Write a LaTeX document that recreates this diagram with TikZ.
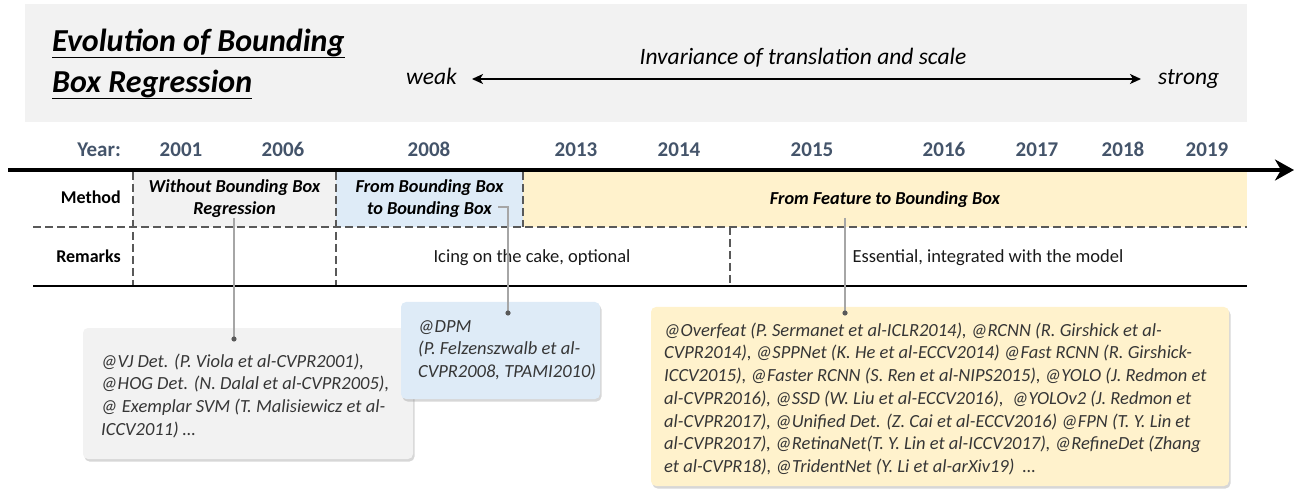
\documentclass[tikz,border=0pt]{standalone}
\usepackage{fontspec}
\setmainfont{Carlito}
\usetikzlibrary{arrows.meta,shadows}
\definecolor{bandgray}{HTML}{F2F2F2}
\definecolor{cellblue}{HTML}{DEEBF7}
\definecolor{cellyellow}{HTML}{FFF2CC}
\definecolor{yearcol}{HTML}{44546A}
\definecolor{boxtext}{HTML}{363636}
\definecolor{dashcol}{HTML}{595959}
\definecolor{linkcol}{HTML}{A6A6A6}
\definecolor{dotcol}{HTML}{595959}
\newcommand\titleul[1]{\setbox0\hbox{#1}\rlap{\rule[-6.5pt]{\wd0}{1.9pt}}\box0}
\newcommand\tlines[2]{\parbox[t]{#1}{\raggedright #2}}
\tikzset{
  yearlbl/.style={anchor=base, inner sep=0pt, text=yearcol, font=\fontsize{21}{25}\selectfont\bfseries},
  rowlbl/.style={anchor=base east, inner sep=0pt, font=\fontsize{18}{22}\selectfont\bfseries},
  methlbl/.style={anchor=base, inner sep=0pt, align=center, font=\fontsize{18.3}{22}\selectfont\bfseries\itshape},
  remlbl/.style={anchor=base, inner sep=0pt, text=black!90, font=\fontsize{18.5}{22}\selectfont},
  dsh/.style={draw=dashcol, line width=1.4pt, dash pattern=on 8pt off 4pt},
  link/.style={draw=linkcol, line width=1.2pt},
  ibox/.style={rectangle, rounded corners=5pt, draw=none, inner sep=0pt,
    drop shadow={shadow xshift=1.5pt, shadow yshift=-2.5pt, opacity=0.35, fill=black!45}},
  boxtxt/.style={anchor=base west, inner sep=0pt, text=boxtext, font=\fontsize{18.5}{22.8}\selectfont\itshape},
  titlefont/.style={anchor=base west, inner sep=0pt, font=\fontsize{32}{38}\selectfont\bfseries\itshape},
  headfont/.style={inner sep=0pt, font=\fontsize{23.5}{28}\selectfont\itshape},
}
\begin{document}
\begin{tikzpicture}[x=1pt,y=-1pt]
\useasboundingbox (0,0) rectangle (1294,489);
% header band
\fill[bandgray] (25,4) rectangle (1247,122);
\node[titlefont] (title1) at (52,52) {\titleul{Evolution of Bounding}};
\node[titlefont] (title2) at (52,93) {\titleul{Box Regression}};
\node[headfont, anchor=base] (inv) at (803,65) {Invariance of translation and scale};
\node[headfont, anchor=base east] (weak) at (457,85) {weak};
\node[headfont, anchor=base west] (strong) at (1158,85) {strong};
\coordinate (invL) at (472,79);
\coordinate (invR) at (1141,79);
\draw[line width=1.6pt, {Stealth[length=11pt,width=10pt,inset=3pt]}-{Stealth[length=11pt,width=10pt,inset=3pt]}] (invL) -- (invR);

% method row cells
\node[rectangle, fill=bandgray, inner sep=0pt, minimum width=203pt, minimum height=55pt] (cellA) at (234.5,199.5) {};
\node[rectangle, fill=cellblue, inner sep=0pt, minimum width=187pt, minimum height=55pt] (cellB) at (429.5,199.5) {};
\node[rectangle, fill=cellyellow, inner sep=0pt, minimum width=724pt, minimum height=55pt] (cellC) at (885,199.5) {};

% year row
\node[yearlbl, anchor=base east] (yr) at (121,157) {Year:};
\node[yearlbl] (y2001) at (181,157) {2001};
\node[yearlbl] (y2006) at (283,157) {2006};
\node[yearlbl] (y2008) at (429,157) {2008};
\node[yearlbl] (y2013) at (576,157) {2013};
\node[yearlbl] (y2014) at (679,157) {2014};
\node[yearlbl] (y2015) at (812,157) {2015};
\node[yearlbl] (y2016) at (944,157) {2016};
\node[yearlbl] (y2017) at (1037,157) {2017};
\node[yearlbl] (y2018) at (1123,157) {2018};
\node[yearlbl] (y2019) at (1207,157) {2019};

% axis
\coordinate (axS) at (8,170);
\coordinate (axE) at (1294,170);
\draw[line width=3.6pt, -{Stealth[length=19pt,width=21pt,inset=6pt]}] (axS) -- (axE);

% table lines
\draw[dsh] (133,172) -- (133,286);
\draw[dsh] (336,172) -- (336,286);
\draw[dsh] (523,172) -- (523,227);
\draw[dsh] (730,227) -- (730,286);
\draw[dsh] (33,227) -- (1247,227);
\draw[line width=1.3pt] (33,286) -- (1247,286);

% row labels
\node[rowlbl] (lmethod) at (121,204) {Method};
\node[rowlbl] (lremarks) at (121,263) {Remarks};

% method labels
\node[methlbl] (mA1) at (234.5,193) {Without Bounding Box};
\node[methlbl] (mA2) at (234.5,215) {Regression};
\node[methlbl] (mB1) at (429.5,193) {From Bounding Box};
\node[methlbl] (mB2) at (429.5,215) {to Bounding Box};
\node[methlbl] (mC) at (885,205) {From Feature to Bounding Box};

% remarks
\node[remlbl] (r1) at (532,263) {Icing on the cake, optional};
\node[remlbl] (r2) at (988,263) {Essential, integrated with the model};

% boxes
\node[ibox, fill=bandgray, minimum width=330pt, minimum height=131pt] (gbox) at (248,393.5) {};
\node[ibox, fill=cellblue, minimum width=199pt, minimum height=97pt] (bbox) at (500.5,350.5) {};
\node[ibox, fill=cellyellow, minimum width=578pt, minimum height=179pt] (ybox) at (940,396.5) {};

\node[boxtxt] (gtext) at (101,367) {\tlines{320pt}{@VJ Det. (P. Viola et al-CVPR2001),\\@HOG Det. (N. Dalal et al-CVPR2005),\\@ Exemplar SVM (T. Malisiewicz et al-\\ICCV2011) \dots}};
\node[boxtxt] (btext) at (418,332) {\tlines{190pt}{@DPM\\(P. Felzenszwalb et al-\\CVPR2008, TPAMI2010)}};
\node[boxtxt] (ytext) at (664,336) {\tlines{570pt}{@Overfeat (P. Sermanet et al-ICLR2014), @RCNN (R. Girshick et al-\\CVPR2014), @SPPNet (K. He et al-ECCV2014) @Fast RCNN (R. Girshick-\\ICCV2015), @Faster RCNN (S. Ren et al-NIPS2015), @YOLO (J. Redmon et\\al-CVPR2016), @SSD (W. Liu et al-ECCV2016), \ @YOLOv2 (J. Redmon et\\al-CVPR2017), @Unified Det. (Z. Cai et al-ECCV2016) @FPN (T. Y. Lin et\\al-CVPR2017), @RetinaNet(T. Y. Lin et al-ICCV2017), @RefineDet (Zhang\\et al-CVPR18), @TridentNet (Y. Li et al-arXiv19) \ \dots}};

% connectors
\coordinate (c1s) at (234,218);
\coordinate (d1) at (234,339);
\coordinate (c2s) at (498,207);
\coordinate (c2k) at (508,207);
\coordinate (d2) at (508,313);
\coordinate (c3s) at (845,218);
\coordinate (d3) at (845,313);
\draw[link] (c1s) -- (d1);
\draw[link] (c2s) -- (c2k) -- (d2);
\draw[link] (c3s) -- (d3);
\fill[dotcol] (d1) circle (2.6pt);
\fill[dotcol] (d2) circle (2.6pt);
\fill[dotcol] (d3) circle (2.6pt);
\end{tikzpicture}
\end{document}
